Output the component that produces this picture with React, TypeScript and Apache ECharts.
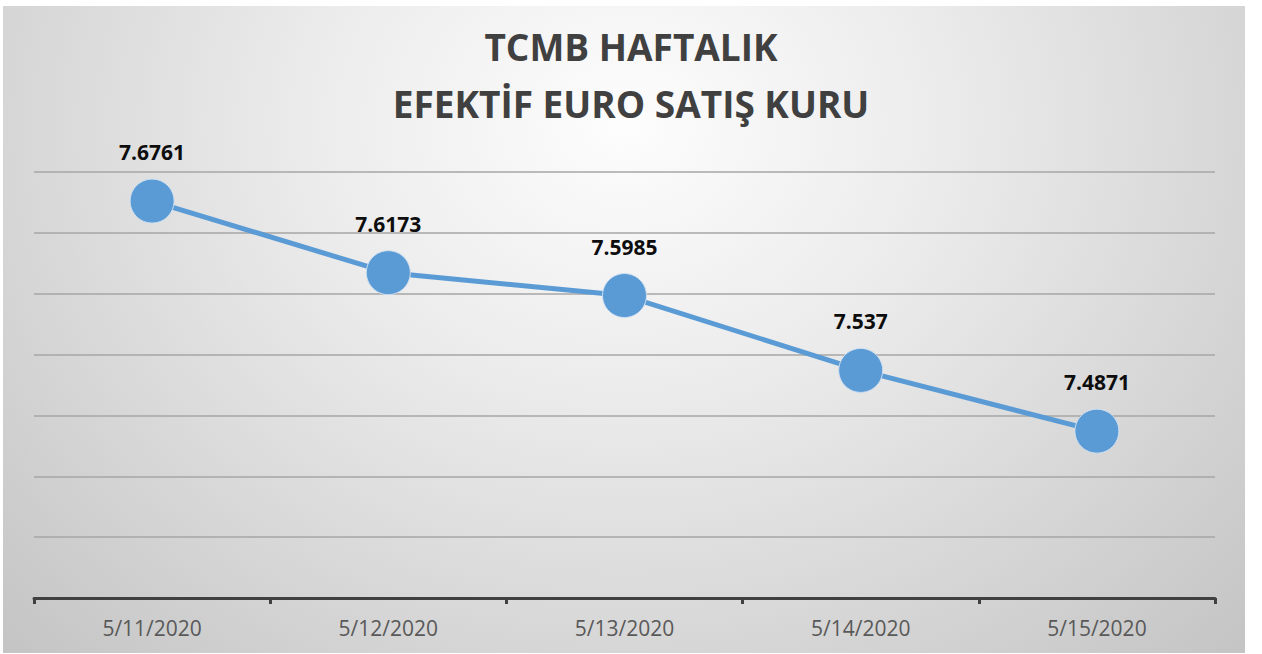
import React, { useEffect, useRef } from "react";
import * as echarts from "echarts";

const categories = ["5/11/2020", "5/12/2020", "5/13/2020", "5/14/2020", "5/15/2020"];
const values = [7.6761, 7.6173, 7.5985, 7.537, 7.4871];
const titleLines = ["TCMB HAFTALIK", "EFEKTİF EURO SATIŞ KURU"];
const yMin = 7.35;
const yMax = 7.7;
const yInterval = 0.05;

export default function App() {
  const ref = useRef<HTMLDivElement>(null);
  useEffect(() => {
    if (!ref.current) return;
    const chart = echarts.init(ref.current, undefined, { renderer: "svg" });
    chart.setOption({
      animation: false,
      backgroundColor: "transparent",
      title: {
        text: titleLines.join("\n"),
        left: "center",
        top: 18,
        padding: 0,
        textStyle: {
          fontFamily: "'Open Sans', sans-serif",
          fontWeight: "bold",
          fontSize: 37,
          lineHeight: 57,
          color: "#404040",
        },
      },
      grid: { left: 34, right: 47, top: 172, bottom: 56 },
      xAxis: {
        type: "category",
        data: categories,
        boundaryGap: true,
        axisLine: { lineStyle: { color: "#404040", width: 3 } },
        axisTick: { show: true, length: 6, lineStyle: { color: "#404040", width: 3 } },
        axisLabel: {
          margin: 19,
          fontFamily: "'Open Sans', sans-serif",
          fontSize: 21,
          color: "#595959",
        },
      },
      yAxis: {
        type: "value",
        min: yMin,
        max: yMax,
        interval: yInterval,
        axisLine: { show: false },
        axisTick: { show: false },
        axisLabel: { show: false },
        splitLine: { lineStyle: { color: "#a6a6a6", width: 1.5 } },
      },
      series: [
        {
          type: "line",
          data: values,
          symbol: "circle",
          symbolSize: 44,
          lineStyle: { color: "#5B9BD5", width: 5 },
          itemStyle: { color: "#5B9BD5", borderColor: "#cfe0f1", borderWidth: 1 },
          label: {
            show: true,
            position: "top",
            distance: 16,
            fontFamily: "'Open Sans', sans-serif",
            fontWeight: "bold",
            fontSize: 21,
            color: "#0d0d0d",
            formatter: (p: any) => String(p.value),
          },
        },
      ],
    });
    return () => chart.dispose();
  }, []);
  return (
    <div style={{ position: "fixed", left: 0, top: 0, width: 1262, height: 654, background: "#ffffff" }}>
      <div
        style={{
          position: "absolute",
          left: 3,
          top: 6,
          width: 1242,
          height: 647,
          background:
            "radial-gradient(ellipse farthest-corner at 50% 18%, #fdfdfd 0%, #ececec 35%, #c4c4c4 100%)",
        }}
      />
      <div ref={ref} style={{ position: "absolute", left: 0, top: 0, width: 1262, height: 654 }} />
    </div>
  );
}
